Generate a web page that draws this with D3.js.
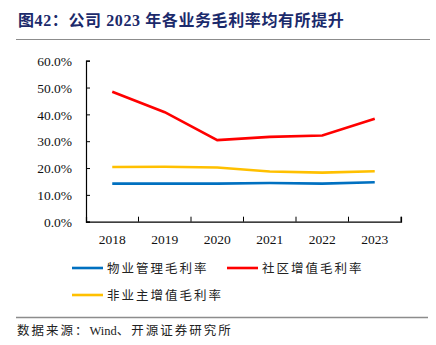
<!DOCTYPE html>
<html>
<head>
<meta charset="utf-8">
<script src="https://cdn.jsdelivr.net/npm/d3@7"></script>
<style>
  body { margin: 0; background: #fff; }
  svg text { font-family: "Liberation Serif", "Noto Sans CJK SC", serif; }
</style>
</head>
<body>
<div id="chart"></div>
<script>
var years = ["2018", "2019", "2020", "2021", "2022", "2023"];
var propertyMgmt = [14.2, 14.2, 14.2, 14.4, 14.2, 14.7];
var communityVas = [48.4, 40.8, 30.4, 31.6, 32.1, 38.4];
var nonOwnerVas = [20.4, 20.5, 20.2, 18.7, 18.3, 18.8];
var seriesNames = ["物业管理毛利率", "社区增值毛利率", "非业主增值毛利率"];
var yTicks = [0, 10, 20, 30, 40, 50, 60];

var svgWidth = 436;
var svgHeight = 345;
var margin = { top: 60.7, right: 35, bottom: 123.3, left: 86 };
var width = svgWidth - margin.left - margin.right;
var height = svgHeight - margin.top - margin.bottom;

var colors = ["#0070C0", "#FF0000", "#FFC000"];
var allSeries = [propertyMgmt, communityVas, nonOwnerVas];

var svg = d3.select("#chart")
    .append("svg")
    .attr("width", svgWidth)
    .attr("height", svgHeight);

// title + rules
svg.append("text")
    .attr("x", 18)
    .attr("y", 26)
    .attr("fill", "#1B2A6B")
    .attr("font-size", "16px")
    .attr("font-weight", "bold")
    .style("letter-spacing", "0.6px")
    .text("图42：公司 2023 年各业务毛利率均有所提升");

svg.append("line")
    .attr("x1", 16).attr("x2", 430)
    .attr("y1", 39.5).attr("y2", 39.5)
    .attr("stroke", "#8c8c8c")
    .attr("stroke-width", 1.2);

svg.append("line")
    .attr("x1", 16).attr("x2", 428)
    .attr("y1", 317.5).attr("y2", 317.5)
    .attr("stroke", "#8c8c8c")
    .attr("stroke-width", 1.5);

var source = svg.append("text")
    .attr("x", 17)
    .attr("y", 335)
    .attr("font-size", "12.5px")
    .attr("fill", "#222");
source.append("tspan").style("letter-spacing", "2px").text("数据来源：");
source.append("tspan").text("Wind");
source.append("tspan").style("letter-spacing", "2px").text("、开源证券研究所");

var chartGroup = svg.append("g")
    .attr("transform", `translate(${margin.left}, ${margin.top})`);

var xScale = d3.scaleBand()
    .domain(years)
    .range([0, width]);

var yScale = d3.scaleLinear()
    .domain([0, 60])
    .range([height, 0]);

var bottomAxis = d3.axisBottom(xScale).tickSize(-5).tickFormat("");
var leftAxis = d3.axisLeft(yScale).tickValues(yTicks).tickSize(-4).tickFormat("");

var xAxisG = chartGroup.append("g")
    .attr("transform", `translate(0, ${height})`)
    .call(bottomAxis);
// ticks on band edges rather than centres
xAxisG.selectAll(".tick").remove();
var edges = years.map(function(y) { return xScale(y) + xScale.bandwidth(); });
xAxisG.selectAll(".edge")
    .data(edges)
    .enter()
    .append("line")
    .attr("x1", d => d).attr("x2", d => d)
    .attr("y1", 0).attr("y2", -5)
    .attr("stroke", "#000");
xAxisG.selectAll(".yr")
    .data(years)
    .enter()
    .append("text")
    .attr("x", d => xScale(d) + xScale.bandwidth() / 2)
    .attr("y", 22)
    .attr("text-anchor", "middle")
    .attr("font-size", "13.5px")
    .attr("fill", "#111")
    .text(d => d);

var yAxisG = chartGroup.append("g").call(leftAxis);
yAxisG.selectAll(".tick")
    .append("text")
    .attr("x", -14)
    .attr("dy", "0.35em")
    .attr("text-anchor", "end")
    .attr("font-size", "13.5px")
    .attr("fill", "#111")
    .text(d => d.toFixed(1) + "%");

chartGroup.selectAll(".domain")
    .attr("stroke", "#000")
    .attr("stroke-width", 1.2);

var line = d3.line()
    .x((d, i) => xScale(years[i]) + xScale.bandwidth() / 2)
    .y(d => yScale(d));

chartGroup.selectAll(".series")
    .data(allSeries)
    .enter()
    .append("path")
    .attr("fill", "none")
    .attr("stroke", (d, i) => colors[i])
    .attr("stroke-width", 2.6)
    .attr("d", line);

// legend
var legendPos = [[72, 268], [227, 268], [72, 295]];
var legend = svg.selectAll(".legend")
    .data(seriesNames)
    .enter()
    .append("g")
    .attr("transform", (d, i) => `translate(${legendPos[i][0]}, ${legendPos[i][1]})`);

legend.append("line")
    .attr("x1", 0).attr("x2", 31)
    .attr("y1", 0).attr("y2", 0)
    .attr("stroke", (d, i) => colors[i])
    .attr("stroke-width", 2.6);

legend.append("text")
    .attr("x", 35)
    .attr("y", 0)
    .attr("dy", "0.36em")
    .attr("font-size", "12.5px")
    .attr("fill", "#222")
    .style("letter-spacing", "2px")
    .text(d => d);
</script>
</body>
</html>
